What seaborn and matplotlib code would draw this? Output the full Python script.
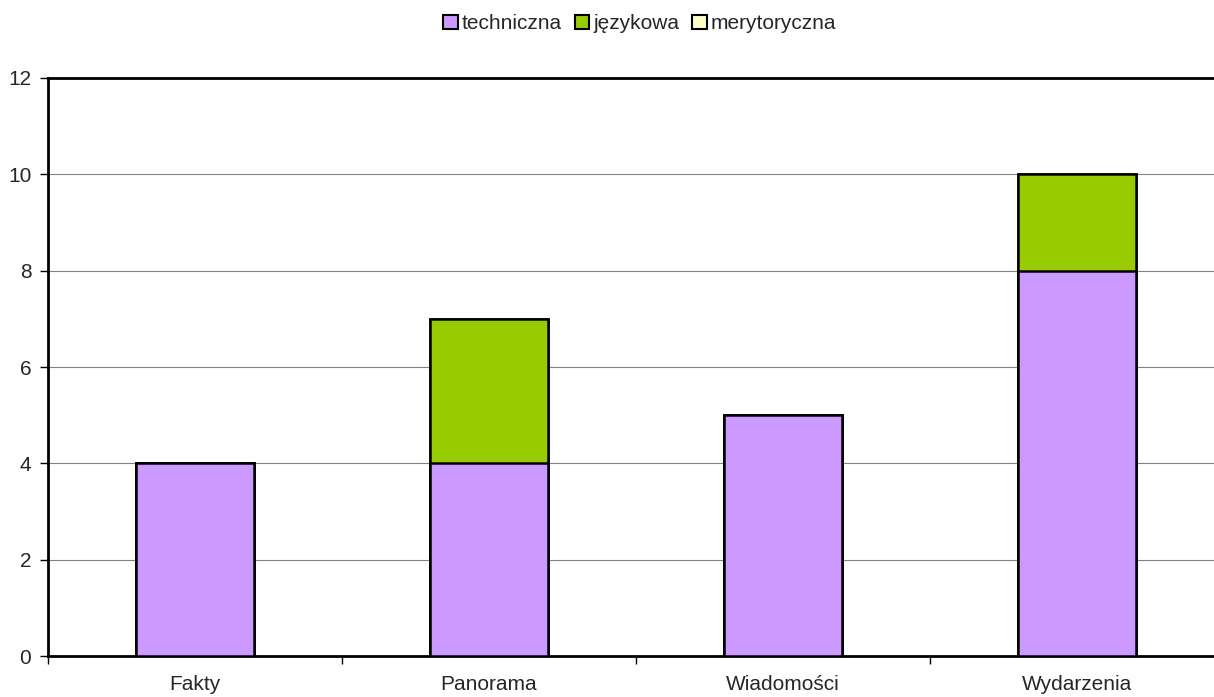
import numpy as np
import pandas as pd
import matplotlib
matplotlib.use('Agg')
import matplotlib.pyplot as plt
from matplotlib.patches import Patch
import seaborn as sns

# dane
programy = ['Fakty', 'Panorama', 'Wiadomości', 'Wydarzenia']
techniczna = [4, 4, 5, 8]
jezykowa = [0, 3, 0, 2]
merytoryczna = [0, 0, 0, 0]
serie = ['techniczna', 'językowa', 'merytoryczna']
kolory = ['#CC99FF', '#99CC00', '#FFFFCC']

sns.set_style('white')
plt.rcParams['font.family'] = ['Liberation Sans', 'DejaVu Sans']

df = pd.DataFrame({'program': programy,
                   'techniczna': techniczna,
                   'jezykowa': jezykowa,
                   'merytoryczna': merytoryczna})
# skumulowane wysokości (rysowane od najwyższej)
df['s1'] = df['techniczna']
df['s2'] = df['s1'] + df['jezykowa']
df['s3'] = df['s2'] + df['merytoryczna']

fig = plt.figure(figsize=(12.14, 6.97), dpi=100)
ax = fig.add_axes([0.0395, 0.0588, 0.9687, 0.8293])

for col, kolor in zip(['s3', 's2', 's1'], kolory[::-1]):
    sns.barplot(data=df, x='program', y=col, color=kolor, width=0.4,
                edgecolor='black', linewidth=1.8, saturation=1, ax=ax,
                zorder=3)

ax.set_ylim(0, 12)
ax.set_xlim(-0.5, 3.5)
ax.set_yticks(np.arange(0, 13, 2))
ax.yaxis.grid(True, color='#808080', linewidth=0.8, zorder=0)
ax.set_xlabel('')
ax.set_ylabel('')

# podziałki osi x na granicach kategorii
ax.set_xticks(np.arange(len(programy)))
ax.set_xticklabels(programy, fontsize=15)
ax.set_xticks(np.arange(-0.5, 3.5, 1), minor=True)
ax.tick_params(axis='x', which='major', length=0, pad=14)
ax.tick_params(axis='x', which='minor', length=6, width=1, color='black',
               direction='out', bottom=True)
ax.tick_params(axis='y', length=6, width=1, color='black', direction='out',
               labelsize=15, pad=6, left=True)

for s in ['left', 'bottom', 'top']:
    ax.spines[s].set_visible(True)
    ax.spines[s].set_color('black')
    ax.spines[s].set_linewidth(2)
ax.spines['right'].set_visible(False)

uchwyty = [Patch(facecolor=k, edgecolor='black', linewidth=1.5) for k in kolory]
fig.legend(uchwyty, serie, loc='center', bbox_to_anchor=(0.527, 0.966),
           ncol=3, frameon=False, fontsize=15, handlelength=0.7,
           handleheight=0.7, handletextpad=0.2, columnspacing=0.6)

fig.savefig('out.png', dpi=100)
